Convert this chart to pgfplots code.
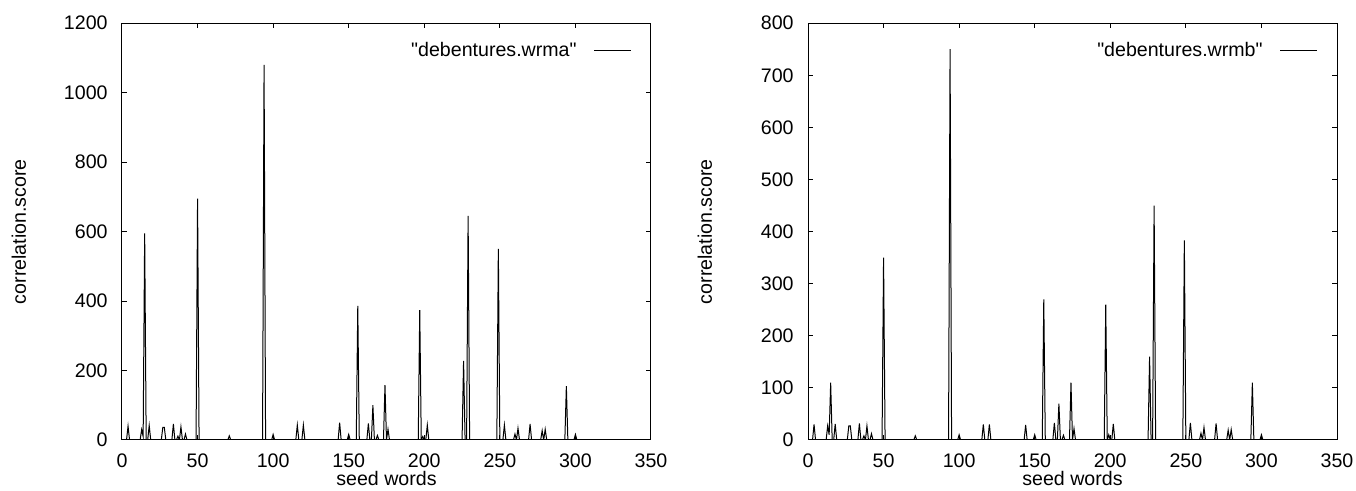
\documentclass[border=0pt]{standalone}
\usepackage{fontspec}
\setmainfont{Liberation Sans}[Ligatures=TeXOff]
\usepackage{pgfplots}
\pgfplotsset{compat=1.18}

\pgfplotsset{
  gnu/.style={
    scale only axis,
    width=264.5pt, height=208.4pt,
    xmin=0, xmax=350,
    ymin=0,
    xtick={0,50,...,350},
    scaled ticks=false,
    /pgf/number format/1000 sep={},
    /pgf/number format/assume math mode=true,
    font=\fontsize{9.8}{11}\selectfont,
    tick align=inside,
    major tick length=2.5pt,
    axis line style={line width=0.5pt},
    every tick/.style={black, line width=0.5pt},
    xticklabel style={inner sep=0pt, anchor=north, yshift=-6.5pt},
    yticklabel style={inner sep=0pt, anchor=east, xshift=-7pt},
    xlabel={seed words},
    ylabel={correlation.score},
    xlabel style={at={(axis description cs:0.5,-0.0935)}, anchor=center, inner sep=0pt},
    ylabel style={at={(axis description cs:-0.195,0.5)}, anchor=center, inner sep=0pt},
    legend plot pos=right,
    legend image code/.code={\draw[##1, line width=0.5pt] (0pt,0pt) -- (18.5pt,0pt);},
    legend style={draw=none, fill=none, at={(axis description cs:1,1)},
      anchor=east, xshift=-9.5pt, yshift=-13.7pt, inner sep=0pt,
      column sep=8.5pt, nodes={inner sep=0pt}},
  },
}

\begin{document}
\begin{tikzpicture}
  \useasboundingbox (-61pt,-25.5pt) rectangle (617pt,220pt);

  % debentures.wrma
  \begin{axis}[gnu, at={(0pt,0pt)}, anchor=south west,
      ymax=1200, ytick={0,200,...,1200}]
    \addplot[black, line width=0.5pt, mark=none] coordinates {
      (0,0) (3,0) (4,40) (5,0) (12,0) (13,30) (14,10) (15,595) (16,0)
      (17,0) (18,42) (19,0) (26,0) (27,36) (28,36) (29,0)
      (33,0) (34,46) (35,0) (36,0) (37,11) (38,0) (39,38) (40,0) (41,0) (42,17) (43,0)
      (49,0) (50,695) (51,0) (70,0) (71,12) (72,0)
      (93,0) (94,1080) (95,0) (99,0) (100,16) (101,0)
      (115,0) (116,43) (117,0) (119,0) (120,43) (121,0)
      (143,0) (144,50) (145,0) (149,0) (150,16) (151,0)
      (155,0) (156,386) (157,0) (162,0) (163,48) (164,0) (165,0) (166,100) (167,0)
      (168,0) (169,13) (170,0) (173,0) (174,158) (175,0) (176,31) (177,0)
      (196,0) (197,374) (198,0) (199,10) (200,0) (201,0) (202,43) (203,0)
      (225,0) (226,228) (227,0) (228,0) (229,645) (230,0)
      (248,0) (249,550) (250,0) (252,0) (253,43) (254,0)
      (259,0) (260,17) (261,0) (262,34) (263,0) (269,0) (270,46) (271,0)
      (277,0) (278,27) (279,0) (280,31) (281,0)
      (293,0) (294,155) (295,0) (299,0) (300,16) (301,0) (305,0)
    };
    \legend{"debentures.wrma"}
  \end{axis}

  % debentures.wrmb
  \begin{axis}[gnu, at={(343pt,0pt)}, anchor=south west,
      ymax=800, ytick={0,100,...,800}]
    \addplot[black, line width=0.5pt, mark=none] coordinates {
      (0,0) (3,0) (4,30) (5,0) (12,0) (13,27) (14,10) (15,110) (16,0)
      (17,0) (18,31) (19,0) (26,0) (27,27) (28,27) (29,0)
      (33,0) (34,32) (35,0) (36,0) (37,8) (38,0) (39,27) (40,0) (41,0) (42,12) (43,0)
      (49,0) (50,350) (51,0) (70,0) (71,8) (72,0)
      (93,0) (94,750) (95,0) (99,0) (100,10) (101,0)
      (115,0) (116,30) (117,0) (119,0) (120,30) (121,0)
      (143,0) (144,29) (145,0) (149,0) (150,10) (151,0)
      (155,0) (156,270) (157,0) (162,0) (163,33) (164,0) (165,0) (166,70) (167,0)
      (168,0) (169,9) (170,0) (173,0) (174,110) (175,0) (176,22) (177,0)
      (196,0) (197,260) (198,0) (199,10) (200,0) (201,0) (202,31) (203,0)
      (225,0) (226,160) (227,0) (228,0) (229,450) (230,0)
      (248,0) (249,383) (250,0) (252,0) (253,33) (254,0)
      (259,0) (260,13) (261,0) (262,24) (263,0) (269,0) (270,32) (271,0)
      (277,0) (278,19) (279,0) (280,20) (281,0)
      (293,0) (294,110) (295,0) (299,0) (300,10) (301,0) (305,0)
    };
    \legend{"debentures.wrmb"}
  \end{axis}
\end{tikzpicture}
\end{document}
